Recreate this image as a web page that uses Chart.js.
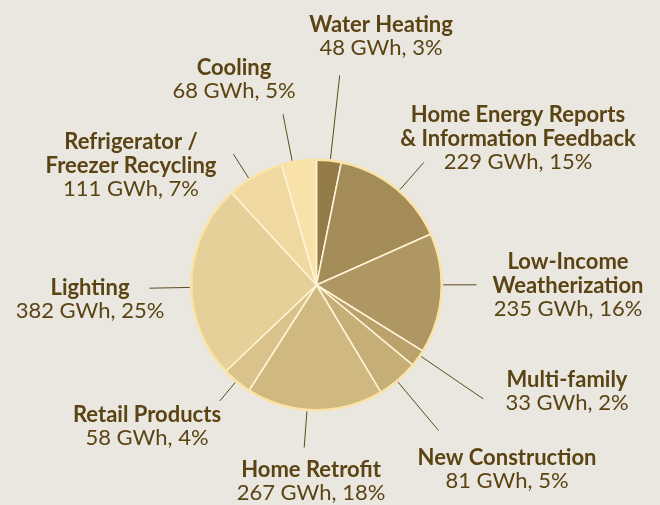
<!DOCTYPE html>
<html>
<head>
<meta charset="utf-8">
<script src="https://cdn.jsdelivr.net/npm/chart.js@4.4.1/dist/chart.umd.min.js"></script>
<style>
    html, body {
        margin: 0;
        padding: 0;
        background: #eae7e0;
    }
    #wrap {
        width: 660px;
        height: 505px;
        position: relative;
    }
</style>
</head>
<body>
<div id="wrap"><canvas id="chart" width="660" height="505"></canvas></div>
<script>
// data (clockwise from top)
var names = [
    ["Water Heating"],
    ["Home Energy Reports", "& Information Feedback"],
    ["Low-Income", "Weatherization"],
    ["Multi-family"],
    ["New Construction"],
    ["Home Retrofit"],
    ["Retail Products"],
    ["Lighting"],
    ["Refrigerator /", "Freezer Recycling"],
    ["Cooling"],
];
var gwh = [48, 229, 235, 33, 81, 267, 58, 382, 111, 68];
var percents = [3, 15, 16, 2, 5, 18, 4, 25, 7, 5];

var colors = [
    "#937b47", "#a48c58", "#af9763", "#bba26c", "#c6ae77",
    "#d0b881", "#d9c28b", "#e5d09a", "#efd9a1", "#f8e2aa",
];

// label layout: text centre x, first baseline y, leader angle tweak (deg), leader end radius
var labelPos = [
    { x: 381, y: 32, tilt: 0.6, r: 211 },
    { x: 518, y: 122, tilt: 2.5, r: 163 },
    { x: 568, y: 269, tilt: -4, r: 160 },
    { x: 567, y: 387, tilt: -1.5, r: 202 },
    { x: 507, y: 465, tilt: 0.6, r: 190 },
    { x: 311, y: 477, tilt: 3.5, r: 163 },
    { x: 147, y: 422, tilt: 0.3, r: 151 },
    { x: 90, y: 295, tilt: -3, r: 167 },
    { x: 131, y: 149, tilt: -3, r: 155 },
    { x: 234, y: 75, tilt: -3, r: 174 },
];

var textColor = "#5b4413";
var fontFamily = "Lato, 'Open Sans', sans-serif";

var labelsPlugin = {
    id: "pieLabels",
    afterDatasetsDraw: function (chart) {
        var ctx = chart.ctx;
        var meta = chart.getDatasetMeta(0);
        var first = meta.data[0];
        var cx = first.x;
        var cy = first.y;
        var outer = first.outerRadius;

        // outer pale ring
        ctx.save();
        ctx.beginPath();
        ctx.arc(cx, cy, outer, 0, Math.PI * 2);
        ctx.strokeStyle = "#fbe3a6";
        ctx.lineWidth = 2.5;
        ctx.stroke();

        // leader lines
        ctx.strokeStyle = "#5e4a1c";
        ctx.lineWidth = 1;
        meta.data.forEach(function (arc, i) {
            var mid = (arc.startAngle + arc.endAngle) / 2 + (labelPos[i].tilt * Math.PI) / 180;
            var r0 = outer + 1.5;
            var r1 = labelPos[i].r;
            ctx.beginPath();
            ctx.moveTo(cx + Math.cos(mid) * r0, cy + Math.sin(mid) * r0);
            ctx.lineTo(cx + Math.cos(mid) * r1, cy + Math.sin(mid) * r1);
            ctx.stroke();
        });

        // texts
        ctx.fillStyle = textColor;
        ctx.textAlign = "center";
        ctx.textBaseline = "alphabetic";
        names.forEach(function (lines, i) {
            var p = labelPos[i];
            var y = p.y;
            ctx.font = "bold 22px " + fontFamily;
            lines.forEach(function (line) {
                ctx.fillText(line, p.x, y);
                y += 24;
            });
            ctx.font = "22px " + fontFamily;
            ctx.fillText(gwh[i] + " GWh, " + percents[i] + "%", p.x, y - 1);
        });
        ctx.restore();
    },
};

new Chart("chart", {
    type: "pie",
    data: {
        labels: names.map(function (n) {
            return n.join(" ");
        }),
        datasets: [
            {
                data: gwh,
                backgroundColor: colors,
                borderColor: "#fff4d6",
                borderWidth: 1.5,
            },
        ],
    },
    options: {
        responsive: false,
        animation: false,
        layout: {
            padding: { left: 190, right: 217, top: 159, bottom: 94 },
        },
        plugins: {
            legend: { display: false },
            tooltip: { enabled: false },
        },
    },
    plugins: [labelsPlugin],
});
</script>
</body>
</html>
